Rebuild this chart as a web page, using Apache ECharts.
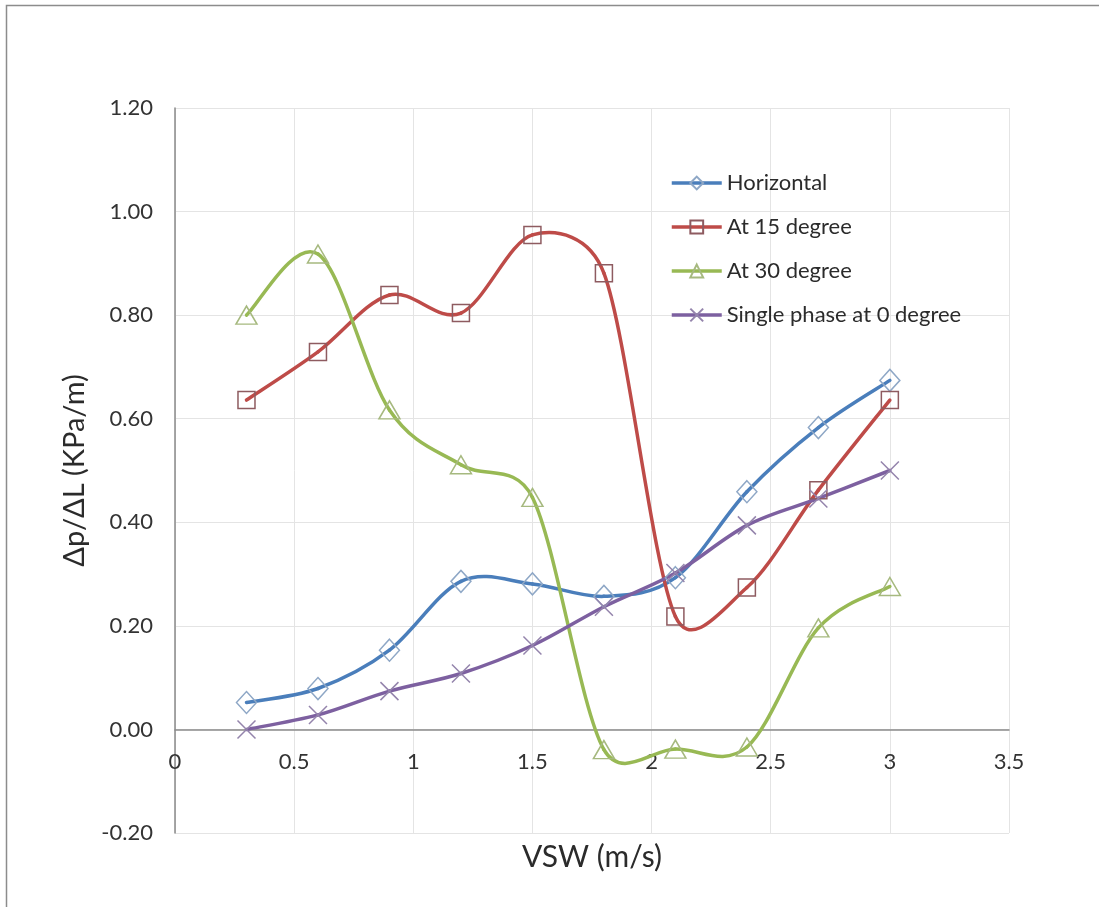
<!DOCTYPE html>
<html>
<head>
<meta charset="utf-8">
<title>Pressure gradient vs superficial water velocity</title>
<script src="https://cdn.jsdelivr.net/npm/echarts@6/dist/echarts.min.js"></script>
<style>
  html, body { margin: 0; padding: 0; background: #ffffff; }
  #chart { width: 1099px; height: 907px; }
</style>
</head>
<body>
<div id="chart"></div>
<script>
// Superficial water velocity (m/s)
const vsw = [0.3, 0.6, 0.9, 1.2, 1.5, 1.8, 2.1, 2.4, 2.7, 3.0];

// Pressure gradient dp/dL (kPa/m) for each pipe inclination
const horizontal = [0.052, 0.079, 0.153, 0.286, 0.281, 0.257, 0.293, 0.459, 0.583, 0.674];
const deg15      = [0.636, 0.729, 0.839, 0.804, 0.955, 0.881, 0.218, 0.274, 0.462, 0.636];
const deg30      = [0.800, 0.918, 0.617, 0.511, 0.448, -0.039, -0.038, -0.034, 0.196, 0.276];
const single0    = [0.000, 0.028, 0.074, 0.108, 0.162, 0.237, 0.302, 0.394, 0.446, 0.500];

const seriesNames = ['Horizontal', 'At 15 degree', 'At 30 degree', 'Single phase at 0 degree'];

const yTicks = { min: -0.2, max: 1.2, interval: 0.2 };
const xTicks = { min: 0, max: 3.5, interval: 0.5 };

const pairs = ys => vsw.map((x, i) => [x, ys[i]]);

const FONT = 'Lato, "Open Sans", sans-serif';
const LINE_W = 3.5;

// Smooth curve: one cubic Bezier per segment. Tangents come from the
// neighbouring points (1/6 of the neighbour chord), capped so a control
// handle never reaches past half of its own segment.
function segmentRenderer(ys, color) {
  const n = vsw.length;
  const dist = (a, b) => Math.hypot(a[0] - b[0], a[1] - b[1]);
  return function (params, api) {
    const i = params.dataIndex;
    if (i >= n - 1) return null;
    const pt = k => api.coord([vsw[k], ys[k]]);
    const p0 = pt(Math.max(i - 1, 0));
    const p1 = pt(i);
    const p2 = pt(i + 1);
    const p3 = pt(Math.min(i + 2, n - 1));
    const d12 = dist(p1, p2);
    const d02 = dist(p0, p2);
    const d13 = dist(p1, p3);
    let f1 = 1 / 6;
    let f2 = 1 / 6;
    if (d02 > 0 && d02 * f1 > d12 / 2) f1 = d12 / 2 / d02;
    if (d13 > 0 && d13 * f2 > d12 / 2) f2 = d12 / 2 / d13;
    return {
      type: 'bezierCurve',
      shape: {
        x1: p1[0], y1: p1[1],
        x2: p2[0], y2: p2[1],
        cpx1: p1[0] + (p2[0] - p0[0]) * f1,
        cpy1: p1[1] + (p2[1] - p0[1]) * f1,
        cpx2: p2[0] - (p3[0] - p1[0]) * f2,
        cpy2: p2[1] - (p3[1] - p1[1]) * f2
      },
      style: { stroke: color, lineWidth: LINE_W, fill: null, lineCap: 'round', lineJoin: 'round' },
      silent: true
    };
  };
}

function curveSeries(name, ys, color) {
  return {
    name: name,
    type: 'custom',
    data: pairs(ys),
    encode: { x: 0, y: 1 },
    renderItem: segmentRenderer(ys, color),
    z: 2
  };
}

function markerSeries(name, ys, color, symbol, symbolSize, markColor) {
  return {
    name: name,
    type: 'line',
    data: pairs(ys),
    symbol: symbol,
    symbolSize: symbolSize,
    showAllSymbol: true,
    lineStyle: { color: color, width: LINE_W, opacity: 0 },
    itemStyle: { color: 'rgba(255,255,255,0)', borderColor: markColor, borderWidth: 1.5 },
    emphasis: { disabled: true },
    z: 3
  };
}

const styles = [
  { color: '#4A7EBB', symbol: 'diamond', size: [20, 22], mark: '#8ea7c6' },
  { color: '#BE4B48', symbol: 'rect', size: 17, mark: '#8e5b60' },
  { color: '#98B954', symbol: 'triangle', size: [21, 18], mark: '#a6b97f' },
  { color: '#7D60A0', symbol: 'path://M0,0L10,10M10,0L0,10', size: 18, mark: '#9484ac' }
];
const values = [horizontal, deg15, deg30, single0];

const series = [];
seriesNames.forEach((name, k) => {
  const s = styles[k];
  series.push(markerSeries(name, values[k], s.color, s.symbol, s.size, s.mark));
});
seriesNames.forEach((name, k) => {
  series.push(curveSeries(name, values[k], styles[k].color));
});

const chart = echarts.init(document.getElementById('chart'), null, { renderer: 'canvas' });

chart.setOption({
  animation: false,
  backgroundColor: '#ffffff',
  graphic: [{
    type: 'rect',
    shape: { x: 6.5, y: 5.5, width: 1200, height: 1200 },
    style: { fill: 'none', stroke: '#8c8c8c', lineWidth: 1.5 },
    silent: true
  }],
  grid: { left: 175, right: 90, top: 108, bottom: 74, containLabel: false, outerBoundsMode: 'none' },
  legend: {
    orient: 'vertical',
    left: 670,
    top: 172,
    padding: 0,
    itemWidth: 50,
    itemHeight: 16,
    itemGap: 22,
    textStyle: { fontFamily: FONT, fontSize: 22, color: '#2b2b2b', lineHeight: 22 },
    data: seriesNames.map((name, k) => ({
      name: name,
      lineStyle: { color: styles[k].color, width: LINE_W, opacity: 1 }
    }))
  },
  xAxis: {
    type: 'value',
    min: xTicks.min,
    max: xTicks.max,
    interval: xTicks.interval,
    name: 'VSW (m/s)',
    nameLocation: 'middle',
    nameGap: 9,
    nameTextStyle: { fontFamily: FONT, fontSize: 30, color: '#2b2b2b' },
    axisLine: { onZero: true, lineStyle: { color: '#8a8a8a', width: 1.5 } },
    axisTick: { show: false },
    // tick labels sit just under the zero line
    axisLabel: { fontFamily: FONT, fontSize: 22, color: '#333333', margin: -82 },
    splitLine: { show: true, lineStyle: { color: '#e4e4e4', width: 1 } }
  },
  yAxis: {
    type: 'value',
    min: yTicks.min,
    max: yTicks.max,
    interval: yTicks.interval,
    name: 'Δp/ΔL (KPa/m)',
    nameLocation: 'middle',
    nameGap: 86,
    nameTextStyle: { fontFamily: FONT, fontSize: 29, color: '#2b2b2b' },
    axisLine: { show: true, onZero: false, lineStyle: { color: '#8a8a8a', width: 1.5 } },
    axisTick: { show: false },
    axisLabel: {
      fontFamily: FONT, fontSize: 22, color: '#333333', margin: 22,
      formatter: v => v.toFixed(2)
    },
    splitLine: { show: true, lineStyle: { color: '#e4e4e4', width: 1 } }
  },
  series: series
});
</script>
</body>
</html>
